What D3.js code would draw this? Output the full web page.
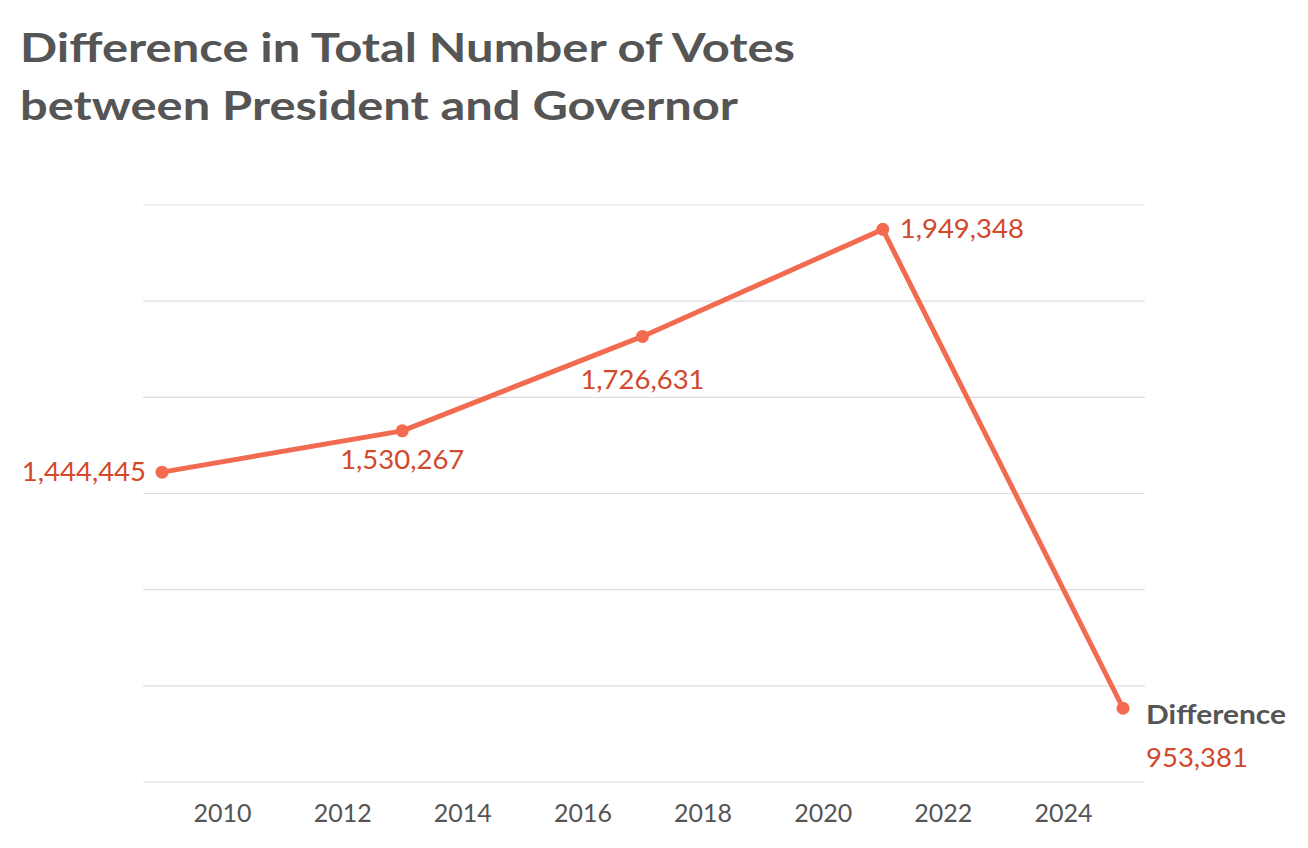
<!DOCTYPE html>
<html><head><meta charset="utf-8">
<script src="https://cdn.jsdelivr.net/npm/d3@7"></script>
<style>body{margin:0;background:#fff;font-family:Lato,"Open Sans",sans-serif;}</style>
</head><body>
<svg id="chart" width="1308" height="848"></svg>
<script>
// Chart data
var years = [2009, 2013, 2017, 2021, 2025];
var diffs = [1444445, 1530267, 1726631, 1949348, 953381];
var tickYears = [2010, 2012, 2014, 2016, 2018, 2020, 2022, 2024];
var gridVals = [800000, 1000000, 1200000, 1400000, 1600000, 1800000, 2000000];
// label placement: 'left', 'below', 'right', 'end'
var labelPos = ['left', 'below', 'below', 'right', 'end'];
var labelDy = [9, 38, 53, 9, 59];

var svg = d3.select('#chart');
var lineColor = '#f26b50', labelColor = '#d2492c', gray = '#555';

var x = d3.scaleLinear().domain([2009, 2025]).range([162, 1123]);
var y = d3.scaleLinear().domain([800000, 2000000]).range([782, 205]);

// title
svg.append('text').attr('x', 20).attr('y', 62)
  .attr('font-size', 41).attr('font-weight', 700).attr('fill', gray)
  .attr('textLength', 775).attr('lengthAdjust', 'spacingAndGlyphs')
  .text('Difference in Total Number of Votes');
svg.append('text').attr('x', 20).attr('y', 120)
  .attr('font-size', 41).attr('font-weight', 700).attr('fill', gray)
  .attr('textLength', 718).attr('lengthAdjust', 'spacingAndGlyphs')
  .text('between President and Governor');

// gridlines
svg.selectAll('.grid').data(gridVals).enter().append('line')
  .attr('x1', 143).attr('x2', 1145)
  .attr('y1', function(d) { return y(d); }).attr('y2', function(d) { return y(d); })
  .attr('stroke', '#ddd').attr('stroke-width', 1.2);

// x axis labels
var xAxis = d3.axisBottom(x).tickValues(tickYears).tickFormat(d3.format('d')).tickSize(0).tickPadding(22);
var gx = svg.append('g').attr('transform', 'translate(0,782)').call(xAxis);
gx.select('.domain').remove();
gx.selectAll('text').attr('font-size', 25).attr('fill', gray).attr('font-family', 'Lato,"Open Sans",sans-serif');

// line
var data = years.map(function(yr, i) { return {year: yr, val: diffs[i], pos: labelPos[i], dy: labelDy[i]}; });
svg.append('path').datum(data)
  .attr('d', d3.line().x(function(d) { return x(d.year); }).y(function(d) { return y(d.val); }))
  .attr('fill', 'none').attr('stroke', lineColor).attr('stroke-width', 5).attr('stroke-linejoin', 'round');

svg.selectAll('.pt').data(data).enter().append('circle')
  .attr('cx', function(d) { return x(d.year); }).attr('cy', function(d) { return y(d.val); })
  .attr('r', 6.5).attr('fill', lineColor);

// value labels
var fmt = d3.format(',');
svg.selectAll('.lbl').data(data).enter().append('text')
  .attr('font-size', 27.5).attr('fill', labelColor)
  .attr('x', function(d) {
    if (d.pos === 'left') return x(d.year) - 16;
    if (d.pos === 'right') return x(d.year) + 17;
    if (d.pos === 'end') return x(d.year) + 23;
    return x(d.year);
  })
  .attr('y', function(d) { return y(d.val) + d.dy; })
  .attr('text-anchor', function(d) {
    if (d.pos === 'left') return 'end';
    if (d.pos === 'below') return 'middle';
    return 'start';
  })
  .text(function(d) { return fmt(d.val); });

// series name
var last = data[data.length - 1];
svg.append('text').attr('x', x(last.year) + 23).attr('y', y(last.val) + 16)
  .attr('font-size', 26).attr('font-weight', 700).attr('fill', gray)
  .attr('textLength', 140).attr('lengthAdjust', 'spacingAndGlyphs')
  .text('Difference');
</script>
</body></html>
